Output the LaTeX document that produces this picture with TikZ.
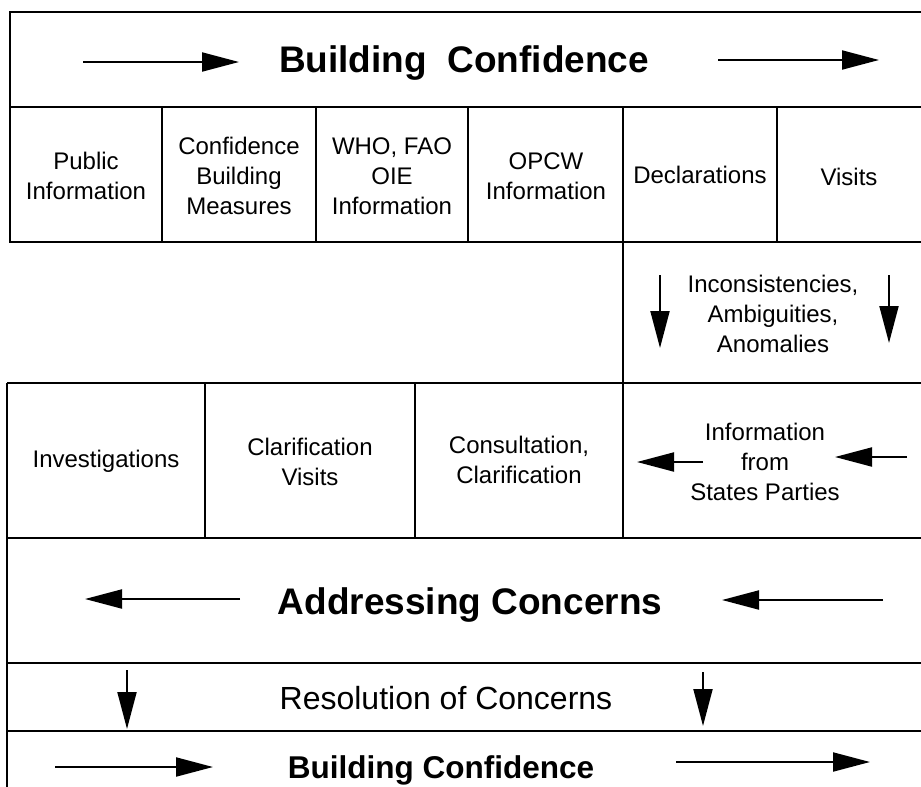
\documentclass[tikz,border=0pt]{standalone}
\usepackage{fontspec}
\setmainfont{Liberation Sans}
\usepackage{tikz}
\usetikzlibrary{arrows.meta}

\tikzset{
	cell/.style={align=center, font=\fontsize{24}{30}\selectfont},
	banner/.style={font=\fontsize{37}{40}\selectfont\bfseries},
	flow/.style={-{Triangle[length=37pt,width=19pt]}, line width=2pt},
	rule/.style={line width=2.4pt}
}

\begin{document}
\begin{tikzpicture}[x=1pt, y=-1pt]
	\useasboundingbox (0,0) rectangle (921,787);
	% frame of the upper part
	\draw[rule] (921,12) -- (10,12) -- (10,242) -- (921,242);
	\draw[rule] (10,107) -- (921,107);
	\foreach \x in {162,316,468,777}
		\draw[rule] (\x,107) -- (\x,242);
	\draw[rule] (623,107) -- (623,538);
	% frame of the lower part
	\draw[rule] (7,383) -- (921,383);
	\draw[rule] (7,383) -- (7,787);
	\draw[rule] (205,383) -- (205,538);
	\draw[rule] (415,383) -- (415,538);
	\draw[rule] (7,538) -- (921,538);
	\draw[rule] (7,663) -- (921,663);
	\draw[rule] (7,731) -- (921,731);

	% top banner
	\node[banner] (build) at (464,63) {Building\ \ Confidence};
	\draw[flow] (83,62) -- (239,62);
	\draw[flow] (718,60) -- (879,60);

	% sources of information
	\node[cell] (public) at (86,176) {Public\\Information};
	\node[cell] (cbm) at (239,176) {Confidence\\Building\\Measures};
	\node[cell] (who) at (392,176) {WHO, FAO\\OIE\\Information};
	\node[cell] (opcw) at (546,176) {OPCW\\Information};
	\node[cell] (decl) at (700,175) {Declarations};
	\node[cell] (visits) at (849,177) {Visits};

	\node[cell] (incons) at (773,314) {Inconsistencies,\\Ambiguities,\\Anomalies};
	\draw[flow] (660,275) -- (660,348);
	\draw[flow] (889,275) -- (889,343);

	% means of addressing concerns
	\node[cell] (invest) at (106,461) {Investigations};
	\node[cell] (clarvis) at (310,462) {Clarification\\Visits};
	\node[cell] (consult) at (519,460) {Consultation,\\Clarification};
	\node[cell] (states) at (765,462) {Information\\from\\States Parties};
	\draw[flow] (703,462) -- (637,462);
	\draw[flow] (907,457) -- (835,457);

	\node[banner] (address) at (470,605) {Addressing Concerns};
	\draw[flow] (240,599) -- (85,599);
	\draw[flow] (883,600) -- (722,600);

	\node[cell, font=\fontsize{32}{36}\selectfont] (resol) at (446,698) {Resolution of Concerns};
	\draw[flow] (127,670) -- (127,729);
	\draw[flow] (703,672) -- (703,726);

	\node[banner, font=\fontsize{31.5}{36}\selectfont\bfseries] (build2) at (441,770) {Building Confidence};
	\draw[flow] (55,767) -- (213,767);
	\draw[flow] (676,762) -- (870,762);
\end{tikzpicture}
\end{document}
